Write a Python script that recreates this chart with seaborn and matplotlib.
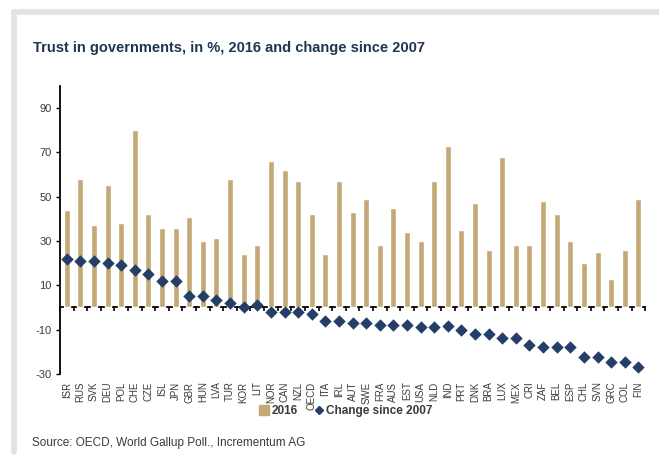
import numpy as np
import pandas as pd
import seaborn as sns
import matplotlib.pyplot as plt
from matplotlib.lines import Line2D

countries = ['ISR', 'RUS', 'SVK', 'DEU', 'POL', 'CHE', 'CZE', 'ISL', 'JPN', 'GBR',
             'HUN', 'LVA', 'TUR', 'KOR', 'LIT', 'NOR', 'CAN', 'NZL', 'OECD', 'ITA',
             'IRL', 'AUT', 'SWE', 'FRA', 'AUS', 'EST', 'USA', 'NLD', 'IND', 'PRT',
             'DNK', 'BRA', 'LUX', 'MEX', 'CRI', 'ZAF', 'BEL', 'ESP', 'CHL', 'SVN',
             'GRC', 'COL', 'FIN']
trust_2016 = [44, 58, 37, 55, 38, 80, 42, 36, 36, 41,
              30, 31.5, 58, 24, 28, 66, 62, 57, 42, 24,
              57, 43, 49, 28, 45, 34, 30, 57, 73, 35,
              47, 26, 68, 28, 28, 48, 42, 30, 20, 25,
              13, 26, 49]
change_2007 = [22, 21, 21, 20, 19, 17, 15, 12, 12, 5,
               5, 3.5, 2, 0, 1, -2, -2, -2, -3, -6,
               -6, -7, -7, -8, -8, -8, -9, -9, -8.5, -10,
               -12, -12, -14, -14, -17, -18, -18, -18, -22.5, -22.5,
               -24.5, -24.5, -27]
y_ticks = [-30, -10, 10, 30, 50, 70, 90]

bar_color = '#C4A977'
dot_color = '#243E68'
text_color = '#3a3a3a'
title_color = '#1F3552'

df = pd.DataFrame({'country': countries, 'trust': trust_2016, 'change': change_2007})

sns.set_style('white')
plt.rcParams['font.family'] = ['Liberation Sans', 'DejaVu Sans']
plt.rcParams['axes.unicode_minus'] = False

fig = plt.figure(figsize=(6.59, 4.61), dpi=100)
ax = fig.add_axes([0.091, 0.189, 0.888, 0.625])

sns.barplot(data=df, x='country', y='trust', color=bar_color, width=0.44,
            saturation=1, ax=ax, label='2016')
sns.scatterplot(data=df, x='country', y='change', marker='D', s=40,
                color=dot_color, edgecolor=dot_color, linewidth=0, ax=ax,
                label='Change since 2007', zorder=3)

ymin, ymax = -30, 100
ax.set_ylim(ymin, ymax)
ax.set_xlim(-0.5, len(countries) - 0.5)
ax.set_yticks(y_ticks)
ax.set_xlabel('')
ax.set_ylabel('')

for s in ['top', 'right', 'bottom']:
    ax.spines[s].set_visible(False)
ax.spines['left'].set_color('black')
ax.spines['left'].set_linewidth(1.3)

ax.tick_params(axis='y', left=True, length=3, width=1, color='black',
               labelsize=8, labelcolor=text_color, pad=3)
ax.tick_params(axis='x', bottom=False, labelsize=7, labelcolor=text_color,
               labelrotation=90, pad=2)

# zero line with category-boundary ticks
zero_frac = (0 - ymin) / (ymax - ymin)
sec = ax.secondary_xaxis(zero_frac)
sec.set_xticks(np.arange(len(countries) + 1) - 0.5)
sec.set_xticklabels([])
sec.spines['bottom'].set_linewidth(1.3)
sec.spines['bottom'].set_color('black')
sec.tick_params(axis='x', direction='out', length=3, width=1.2, color='black')

handles = [Line2D([], [], marker='s', linestyle='none', color=bar_color, markersize=7),
           Line2D([], [], marker='D', linestyle='none', color=dot_color, markersize=4)]
leg = fig.legend(handles, ['2016', 'Change since 2007'], loc='center',
                 bbox_to_anchor=(0.525, 0.108), ncol=2, frameon=False,
                 handletextpad=0.2, columnspacing=1.4, handlelength=0.8,
                 prop={'weight': 'bold', 'size': 8.5})
for t in leg.get_texts():
    t.set_color(text_color)
if ax.get_legend() is not None:
    ax.get_legend().remove()

fig.text(0.05, 0.895, 'Trust in governments, in %, 2016 and change since 2007',
         fontsize=10.5, fontweight='bold', color=title_color, ha='left', va='center')
fig.text(0.048, 0.04, 'Source: OECD, World Gallup Poll., Incrementum AG',
         fontsize=8.5, color=text_color, ha='left', va='center')

# light frame around the chart panel
fig.add_artist(Line2D([0.021, 1.0], [0.975, 0.975], transform=fig.transFigure,
                      color='#e2e2e2', linewidth=4))
fig.add_artist(Line2D([0.021, 0.021], [0.975, 0.02], transform=fig.transFigure,
                      color='#e2e2e2', linewidth=4))

fig.savefig('out.png', dpi=100)
